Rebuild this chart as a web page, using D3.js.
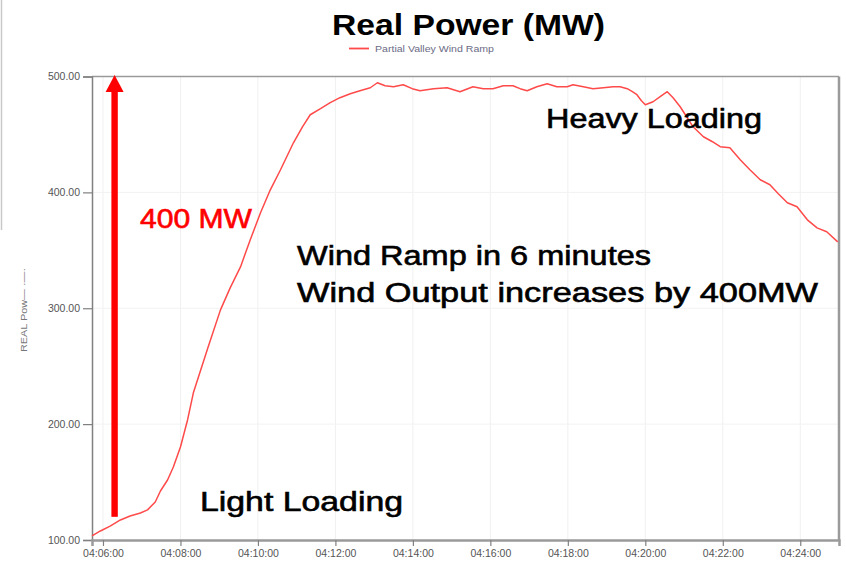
<!DOCTYPE html>
<html>
<head>
<meta charset="utf-8">
<script src="https://cdn.jsdelivr.net/npm/d3@7"></script>
<style>
  html, body { margin: 0; padding: 0; background: #fff; }
  svg { display: block; }
</style>
</head>
<body>
<div id="chart"></div>
<script>
// ---- Data ----
const seriesName = "Partial Valley Wind Ramp";
const times = [
  "04:05:43","04:05:56","04:06:11","04:06:27","04:06:42","04:06:58","04:07:09","04:07:21",
  "04:07:29","04:07:40","04:07:49","04:08:00","04:08:11","04:08:20","04:08:43","04:09:02",
  "04:09:17","04:09:33","04:09:48","04:10:04","04:10:19","04:10:35","04:10:55","04:11:09",
  "04:11:21","04:11:37","04:11:52","04:12:07","04:12:23","04:12:38","04:12:54","04:13:05",
  "04:13:17","04:13:30","04:13:45","04:13:59","04:14:11","04:14:32","04:14:53","04:15:13",
  "04:15:33","04:15:49","04:16:04","04:16:20","04:16:35","04:16:46","04:16:57","04:17:12",
  "04:17:28","04:17:43","04:17:59","04:18:08","04:18:24","04:18:39","04:18:55","04:19:10",
  "04:19:21","04:19:32","04:19:40","04:19:47","04:19:54","04:20:00","04:20:12","04:20:23",
  "04:20:34","04:20:43","04:20:54","04:21:05","04:21:14","04:21:30","04:21:44","04:21:56",
  "04:22:11","04:22:27","04:22:42","04:22:58","04:23:13","04:23:26","04:23:40","04:23:55",
  "04:24:11","04:24:26","04:24:41","04:24:58"
];
const realPower = [
  103.5,107.8,112.0,117.3,120.7,123.3,126.0,132.8,
  142.3,151.8,163.0,180.3,203.6,227.0,266.7,298.6,
  317.6,335.7,359.0,382.4,402.0,419.5,442.8,456.6,
  467.0,472.2,477.4,481.7,485.1,487.7,490.3,494.6,
  492.0,491.2,492.9,489.5,487.7,489.5,490.3,486.9,
  491.2,489.5,489.5,492.0,492.0,489.5,487.7,491.2,
  493.8,491.2,491.2,492.9,491.2,489.5,490.3,491.2,
  491.2,489.5,486.9,484.3,479.1,475.6,478.2,482.6,
  486.9,481.7,473.9,464.4,456.6,448.0,443.7,439.4,
  438.5,428.2,419.5,410.9,406.6,398.8,391.0,387.6,
  376.3,369.4,366.0,357.3
];
const yTicks = [100, 200, 300, 400, 500];
const xTicks = ["04:06:00","04:08:00","04:10:00","04:12:00","04:14:00","04:16:00","04:18:00","04:20:00","04:22:00","04:24:00"];
const xDomain = ["04:05:43","04:25:00"];
const yDomain = [100, 500];
const title = "Real Power (MW)";
const yLabel = "REAL Pow\u2014 \u00b7\u2014\u00b7";
const annotations = [
  { text: "400 MW", x: 140, y: 228, len: 112, color: "#ff0000" },
  { text: "Wind Ramp in 6 minutes", x: 297, y: 265, len: 354, color: "#000" },
  { text: "Wind Output increases by 400MW", x: 297, y: 302, len: 521, color: "#000" },
  { text: "Heavy Loading", x: 546, y: 128, len: 216, color: "#000" },
  { text: "Light Loading", x: 200, y: 511, len: 203, color: "#000" }
];
const arrowValues = [120, 500]; // arrow runs from ~120 MW up to 500 MW

// ---- Layout ----
const W = 846, H = 561;
const mLeft = 92, mRight = 839, mTop = 76.5, mBottom = 540;
const parse = d3.timeParse("%H:%M:%S");
const data = times.map((t, i) => ({ t: parse(t), v: realPower[i] }));

const x = d3.scaleTime().domain(xDomain.map(parse)).range([mLeft, mRight]);
const y = d3.scaleLinear().domain(yDomain).range([mBottom, mTop]);

const svg = d3.select("#chart").append("svg").attr("width", W).attr("height", H)
  .style("font-family", "'Liberation Sans', Arial, sans-serif");

// left decorative page edge
svg.append("line").attr("x1", 1.5).attr("x2", 1.5).attr("y1", 0).attr("y2", 230)
  .attr("stroke", "#c8c8c8").attr("stroke-width", 1.5);

// grid
svg.append("g").selectAll("line").data(xTicks.map(parse)).join("line")
  .attr("x1", d => x(d)).attr("x2", d => x(d)).attr("y1", mTop).attr("y2", mBottom)
  .attr("stroke", "#f0f0f0").attr("stroke-width", 1);
svg.append("g").selectAll("line").data(yTicks.slice(1, -1)).join("line")
  .attr("x1", mLeft).attr("x2", mRight).attr("y1", d => y(d)).attr("y2", d => y(d))
  .attr("stroke", "#f2f2f2").attr("stroke-width", 1);

// frame (top/right)
svg.append("line").attr("x1", mLeft).attr("x2", mRight).attr("y1", mTop).attr("y2", mTop)
  .attr("stroke", "#9a9a9a").attr("stroke-width", 1.5);
svg.append("line").attr("x1", mRight).attr("x2", mRight).attr("y1", mTop).attr("y2", mBottom)
  .attr("stroke", "#9a9a9a").attr("stroke-width", 2.5);

// axes
const yAxis = d3.axisLeft(y).tickValues(yTicks).tickFormat(d3.format(".2f")).tickSize(9).tickPadding(3);
const gy = svg.append("g").attr("transform", `translate(${mLeft},0)`).call(yAxis);
gy.select(".domain").attr("stroke", "#808080").attr("stroke-width", 1.5);
gy.selectAll(".tick line").attr("stroke", "#808080").attr("stroke-width", 1.2);
gy.selectAll(".tick text").attr("fill", "#555").style("font-size", "10.5px")
  .style("font-family", "'Liberation Sans', Arial, sans-serif");

const xAxis = d3.axisBottom(x).tickValues(xTicks.map(parse)).tickFormat(d3.timeFormat("%H:%M:%S")).tickSize(6).tickPadding(4);
const gx = svg.append("g").attr("transform", `translate(0,${mBottom})`).call(xAxis);
gx.select(".domain").attr("stroke", "#9a9a9a").attr("stroke-width", 2.5);
gx.selectAll(".tick line").attr("stroke", "#808080").attr("stroke-width", 1.2);
gx.selectAll(".tick text").attr("fill", "#555").style("font-size", "10.5px")
  .style("font-family", "'Liberation Sans', Arial, sans-serif");

// y label
svg.append("text").attr("transform", "translate(27,310) rotate(-90)")
  .attr("text-anchor", "middle").attr("fill", "#777").style("font-size", "9px")
  .attr("textLength", 84).attr("lengthAdjust", "spacingAndGlyphs")
  .text(yLabel);

// series line
const line = d3.line().x(d => x(d.t)).y(d => y(d.v));
svg.append("path").datum(data).attr("d", line)
  .attr("fill", "none").attr("stroke", "#ff4a4a").attr("stroke-width", 1.5)
  .attr("stroke-linejoin", "round");

// title
svg.append("text").attr("x", 332).attr("y", 35).attr("textLength", 273)
  .attr("lengthAdjust", "spacingAndGlyphs")
  .style("font-size", "30px").style("font-weight", "bold").attr("fill", "#000").text(title);

// legend
svg.append("line").attr("x1", 349).attr("x2", 369).attr("y1", 48.5).attr("y2", 48.5)
  .attr("stroke", "#ff4a4a").attr("stroke-width", 1.8);
svg.append("text").attr("x", 375).attr("y", 52).attr("textLength", 119)
  .attr("lengthAdjust", "spacingAndGlyphs")
  .style("font-size", "9px").attr("fill", "#6b6b85").text(seriesName);

// arrow
const ax = x(parse("04:06:18"));
const tipY = y(arrowValues[1]) - 1.5;
svg.append("rect").attr("x", ax - 3.2).attr("width", 6.4)
  .attr("y", tipY + 15).attr("height", y(arrowValues[0]) - (tipY + 15)).attr("fill", "#ff0000");
svg.append("path").attr("d", `M${ax},${tipY} L${ax - 9},${tipY + 17} L${ax + 9},${tipY + 17} Z`)
  .attr("fill", "#ff0000");

// annotations
svg.append("g").selectAll("text").data(annotations).join("text")
  .attr("x", d => d.x).attr("y", d => d.y).attr("textLength", d => d.len)
  .attr("lengthAdjust", "spacingAndGlyphs").attr("fill", d => d.color)
  .attr("stroke", d => d.color).attr("stroke-width", 0.6)
  .style("font-size", "27px").text(d => d.text);
</script>
</body>
</html>
